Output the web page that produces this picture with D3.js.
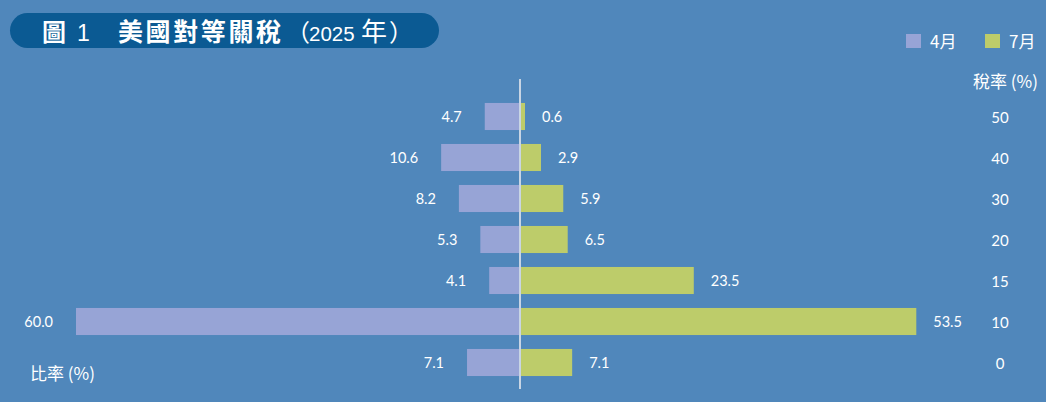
<!DOCTYPE html>
<html><head><meta charset="utf-8">
<script src="https://cdn.jsdelivr.net/npm/d3@7/dist/d3.min.js"></script>
<style>
html,body{margin:0;padding:0;background:#5087bb;}
svg{display:block;}
</style></head>
<body>
<svg id="c" width="1046" height="402"></svg>
<script>
const categories = ["50","40","30","20","15","10","0"];
const april = [4.7,10.6,8.2,5.3,4.1,60.0,7.1];
const july = [0.6,2.9,5.9,6.5,23.5,53.5,7.1];
const seriesNames = ["4月","7月"];

const colors = {bg:"#5087bb", apr:"#97a4d6", jul:"#bdcc6a", title:"#0b5a93", axis:"#c8d5e4"};
const numFont = "Lato, 'DejaVu Sans', sans-serif";
const cjkFont = "'Noto Sans CJK TC', 'Noto Sans', sans-serif";
const latFont = "'Liberation Sans', Arial, sans-serif";

const svg = d3.select("#c");
svg.append("rect").attr("width",1046).attr("height",402).attr("fill",colors.bg);

const cx = 519.5;
const y = d3.scaleBand().domain(categories).range([96,383]).paddingInner(0.34).paddingOuter(0.17);
const xL = d3.scaleLinear().domain([0,60]).range([cx, cx-443.5]);
const xR = d3.scaleLinear().domain([0,60]).range([cx, cx+445]);

const rows = categories.map((c,i)=>({c, a:april[i], j:july[i]}));

// left bars
svg.append("g").selectAll("rect").data(rows).join("rect")
  .attr("x", d=>xL(d.a)).attr("y", d=>y(d.c))
  .attr("width", d=>cx-xL(d.a)).attr("height", y.bandwidth())
  .attr("fill", colors.apr);
// right bars
svg.append("g").selectAll("rect").data(rows).join("rect")
  .attr("x", cx).attr("y", d=>y(d.c))
  .attr("width", d=>Math.max(xR(d.j)-cx,5.5)).attr("height", y.bandwidth())
  .attr("fill", colors.jul);

// value labels
svg.append("g").selectAll("text").data(rows).join("text")
  .attr("x", d=>xL(d.a)-23).attr("y", d=>y(d.c)+y.bandwidth()/2)
  .attr("dy","0.35em").attr("text-anchor","end")
  .attr("font-family",numFont).attr("font-size",14.5).attr("fill","#fff")
  .text(d=>d.a.toFixed(1));
svg.append("g").selectAll("text").data(rows).join("text")
  .attr("x", d=>Math.max(xR(d.j), cx+5.5)+17).attr("y", d=>y(d.c)+y.bandwidth()/2)
  .attr("dy","0.35em").attr("text-anchor","start")
  .attr("font-family",numFont).attr("font-size",14.5).attr("fill","#fff")
  .text(d=>d.j.toFixed(1));

// center line
svg.append("line").attr("x1",cx+0.5).attr("x2",cx+0.5).attr("y1",79).attr("y2",389)
  .attr("stroke",colors.axis).attr("stroke-width",2);

// right axis (tax rates)
const ax = svg.append("g").attr("transform","translate(1000,2)")
  .call(d3.axisRight(y).tickSize(0).tickPadding(0));
ax.select(".domain").remove();
ax.selectAll("text").attr("text-anchor","middle").attr("x",0)
  .attr("font-family",numFont).attr("font-size",15).attr("fill","#fff");

// axis titles
svg.append("text").attr("x",1038).attr("y",88).attr("text-anchor","end")
  .attr("font-family",cjkFont).attr("font-size",17).attr("fill","#fff").text("稅率 (%)");
svg.append("text").attr("x",30).attr("y",380)
  .attr("font-family",cjkFont).attr("font-size",17).attr("fill","#fff").text("比率 (%)");

// legend
const leg = [{n:seriesNames[0],c:colors.apr,x:906},{n:seriesNames[1],c:colors.jul,x:985}];
const lg = svg.append("g").selectAll("g").data(leg).join("g");
lg.append("rect").attr("x",d=>d.x).attr("y",34).attr("width",15).attr("height",14).attr("fill",d=>d.c);
lg.append("text").attr("x",d=>d.x+24).attr("y",48)
  .attr("font-family",cjkFont).attr("font-size",17).attr("fill","#fff").text(d=>d.n);

// title pill
svg.append("rect").attr("x",10).attr("y",13).attr("width",429).attr("height",35)
  .attr("rx",17.5).attr("fill",colors.title);
const t = svg.append("text").attr("y",41).attr("font-family",cjkFont).attr("fill","#fff");
t.append("tspan").attr("x",42).attr("font-size",24).attr("font-weight","bold").text("圖");
t.append("tspan").attr("x",77).attr("font-size",23).attr("font-family",latFont).text("1");
t.append("tspan").attr("x",118).attr("font-size",25).attr("letter-spacing",2.6).attr("font-weight","bold").text("美國對等關稅");
t.append("tspan").attr("x",286).attr("font-size",24).text("（");
t.append("tspan").attr("x",309).attr("font-size",20.5).attr("font-family",latFont).text("2025");
t.append("tspan").attr("x",361).attr("font-size",26).text("年");
t.append("tspan").attr("x",389).attr("font-size",24).text("）");
</script>
</body></html>
